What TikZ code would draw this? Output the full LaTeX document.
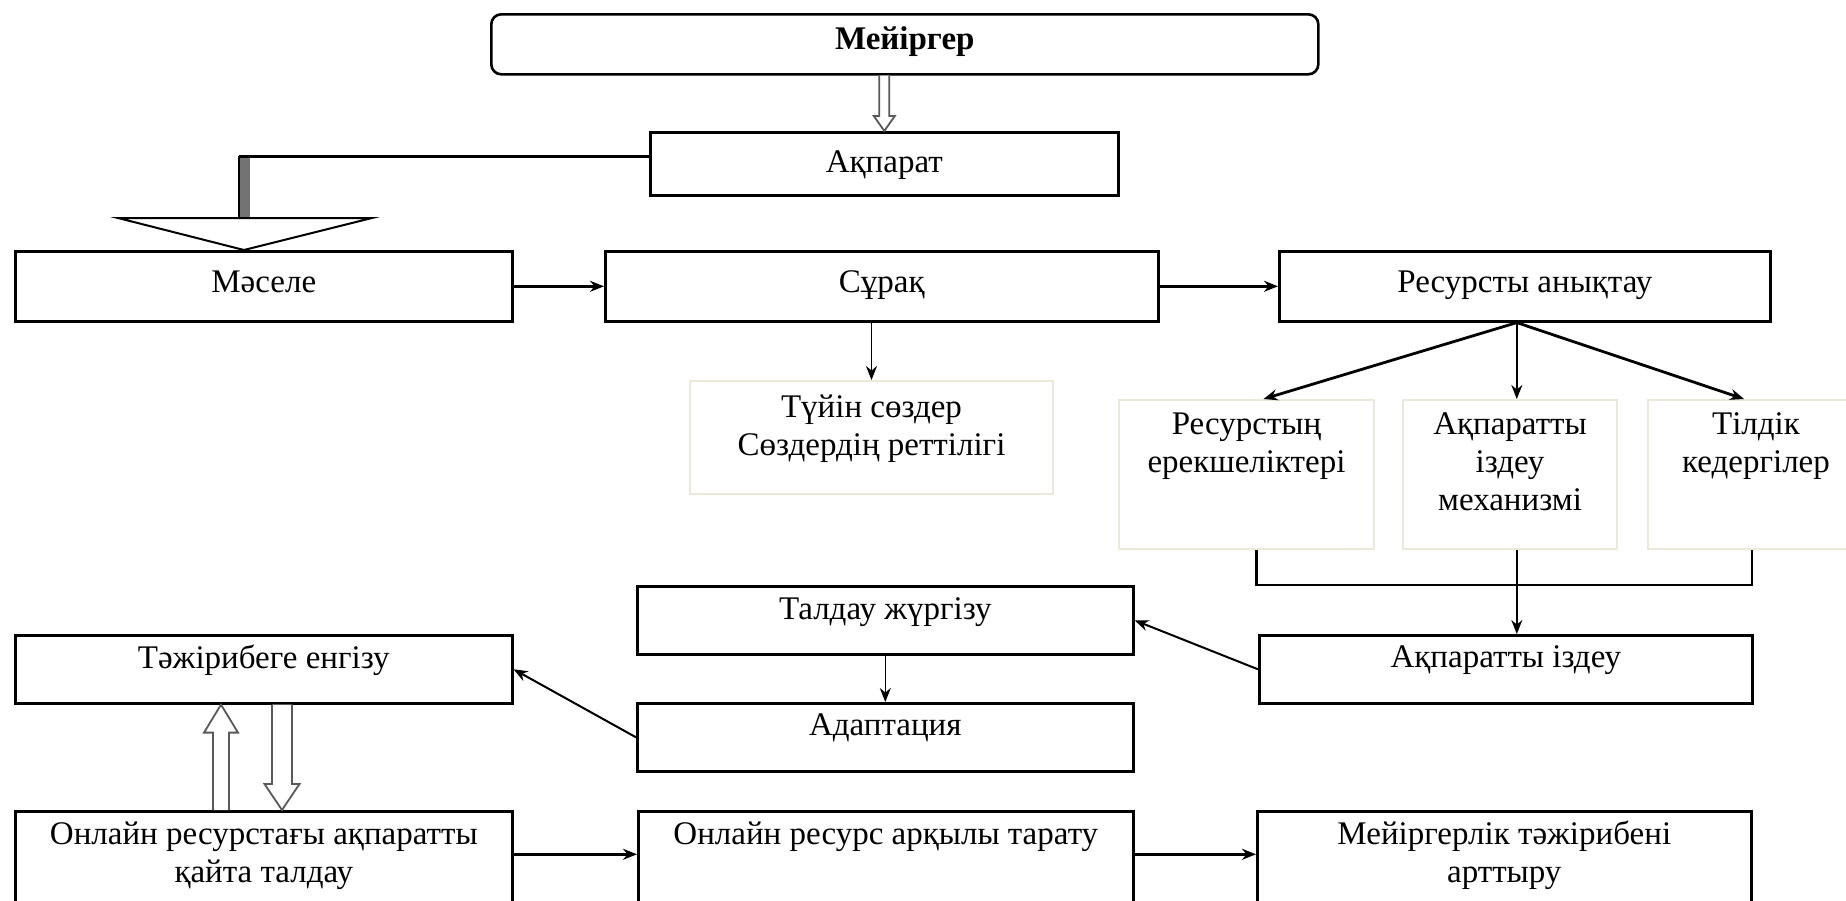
\documentclass[tikz,border=0pt]{standalone}
\usepackage{fontspec}
\setmainfont{Liberation Serif}
\usetikzlibrary{arrows.meta,calc}
\definecolor{lightb}{RGB}{236,232,220}
\begin{document}
\begin{tikzpicture}[x=0.5pt,y=-0.5pt,
 box/.style={draw=black,line width=1.3pt,rectangle,anchor=north west,inner sep=0pt},
 lbox/.style={draw=lightb,line width=1pt,rectangle,anchor=north west,inner sep=0pt},
 txt/.style={font=\fontsize{16.5}{19}\selectfont,anchor=base,align=center,inner sep=0pt},
 arr/.style={-{Stealth[length=7pt,width=5.5pt]},line width=1.4pt},
 tarr/.style={-{Stealth[length=7pt,width=5.5pt]},line width=0.8pt},
 marr/.style={-{Stealth[length=7pt,width=5.5pt]},line width=1pt},
 blk/.style={draw=black!65,line width=0.9pt,fill=white,line join=miter},
]
\useasboundingbox (0,0) rectangle (1846,900);
\clip (0,0) rectangle (1846,900);
% boxes
\node[box,minimum width=413.5pt,minimum height=30pt,rounded corners=5pt] (mei) at (490,13) {};
\node[box,minimum width=234pt,minimum height=31.5pt] (akp) at (649,131) {};
\node[box,minimum width=248.5pt,minimum height=35pt] (mas) at (14,250) {};
\node[box,minimum width=276.5pt,minimum height=35pt] (sur) at (604,250) {};
\node[box,minimum width=245.5pt,minimum height=35pt] (res) at (1278,250) {};
\node[lbox,minimum width=181.5pt,minimum height=56.5pt] (tuy) at (689,380) {};
\node[lbox,minimum width=127.5pt,minimum height=74.5pt] (r1) at (1118,399) {};
\node[lbox,minimum width=107pt,minimum height=74.5pt] (r2) at (1402,399) {};
\node[lbox,minimum width=108pt,minimum height=74.5pt] (r3) at (1647,399) {};
\node[box,minimum width=246.5pt,minimum height=34pt] (izd) at (1258,634) {};
\node[box,minimum width=248pt,minimum height=34pt] (tal) at (636,585) {};
\node[box,minimum width=248pt,minimum height=34pt] (ada) at (636,702) {};
\node[box,minimum width=248.5pt,minimum height=34pt] (taj) at (14,634) {};
\node[box,minimum width=248.5pt,minimum height=55pt] (onl) at (14,810) {};
\node[box,minimum width=247.5pt,minimum height=55pt] (tar) at (637,810) {};
\node[box,minimum width=247pt,minimum height=55pt] (mjt) at (1256,810) {};
% texts (base anchor = baseline of the last line)
\node[txt,font=\fontsize{16.5}{19}\selectfont\bfseries] (meit) at ($(mei.north)+(0,36)$) {Мейіргер};
\node[txt] (akpt) at ($(akp.north)+(0,41)$) {Ақпарат};
\node[txt] (mast) at ($(mas.north)+(0,42)$) {Мәселе};
\node[txt] (surt) at ($(sur.north)+(0,42)$) {Сұрақ};
\node[txt] (rest) at ($(res.north)+(0,42)$) {Ресурсты анықтау};
\node[txt] (tuyt) at ($(tuy.north)+(0,75)$) {Түйін сөздер\\Сөздердің реттілігі};
\node[txt] (r1t) at ($(r1.north)+(0,73)$) {Ресурстың\\ерекшеліктері};
\node[txt] (r2t) at ($(r2.north)+(0,111)$) {Ақпаратты\\іздеу\\механизмі};
\node[txt] (r3t) at ($(r3.north)+(0,73)$) {Тілдік\\кедергілер};
\node[txt] (izdt) at ($(izd.north)+(0,33)$) {Ақпаратты іздеу};
\node[txt] (talt) at ($(tal.north)+(0,34)$) {Талдау жүргізу};
\node[txt] (adat) at ($(ada.north)+(0,33)$) {Адаптация};
\node[txt] (tajt) at ($(taj.north)+(0,34)$) {Тәжірибеге енгізу};
\node[txt] (onlt) at ($(onl.north)+(0,72)$) {Онлайн ресурстағы ақпаратты\\қайта талдау};
\node[txt] (tart) at ($(tar.north)+(0,34)$) {Онлайн ресурс арқылы тарату};
\node[txt] (mjtt) at ($(mjt.north)+(0,72)$) {Мейіргерлік тәжірибені\\арттыру};
% block arrow Мейіргер -> Ақпарат
\draw[blk] ($(mei.south -| akp.north)+(-5,0)$) -- ($(akp.north)+(-5,-15)$) -- ($(akp.north)+(-10.5,-15)$) -- (akp.north) -- ($(akp.north)+(10.5,-15)$) -- ($(akp.north)+(5,-15)$) -- ($(mei.south -| akp.north)+(5,0)$);
% Ақпарат -> Мәселе
\coordinate (tip) at ($(mas.north west)+(230,0)$);
\coordinate (bend) at ($(tip)+(-5,-94)$);
\coordinate (tribase) at ($(tip)+(-5,-32)$);
\fill[gray!90!black] (tribase) rectangle ($(tip)+(6,-94)$);
\draw[line width=0.8pt] (tribase) -- (bend);
\draw[line width=1.5pt] (bend) -- (bend -| akp.west);
\draw[line width=1pt,fill=white,line join=miter] ($(tip)+(-126,-32)$) -- ($(tip)+(128,-32)$) -- (tip) -- cycle;
% top row arrows
\draw[arr] (mas.east) -- (sur.west);
\draw[arr] (sur.east) -- (res.west);
\draw[tarr] (sur.south -| tuy.north) -- (tuy.north);
\coordinate (rs) at ($(res.south)+(-8,0)$);
\draw[arr] (rs) -- ($(r1.north)+(17,0)$);
\draw[tarr] (rs) -- (rs |- r2.north);
\draw[arr] (rs) -- ($(r3.north)+(-12,0)$);
% bracket
\draw[line width=1.3pt] ($(r1.south)+(10,0)$) -- ++(0,35) -| ($(r3.south)+(-4,0)$);
\draw[tarr] (rs |- r2.south) -- (rs |- izd.north);
% middle arrows
\draw[marr] (izd.west) -- (tal.east);
\draw[tarr] (tal.south) -- (ada.north);
\draw[marr] (ada.west) -- (taj.east);
% block arrows between taj and onl
\coordinate (u) at ($(taj.south west)+(207,0)$);
\draw[blk] ($(u |- onl.north)+(-8,0)$) -- ($(u)+(-8,28)$) -- ($(u)+(-17,28)$) -- (u) -- ($(u)+(17,28)$) -- ($(u)+(8,28)$) -- ($(u |- onl.north)+(8,0)$);
\coordinate (d) at ($(onl.north west)+(268,0)$);
\draw[blk] ($(d |- taj.south)+(-10,0)$) -- ($(d)+(-10,-26)$) -- ($(d)+(-17.5,-26)$) -- (d) -- ($(d)+(17.5,-26)$) -- ($(d)+(10,-26)$) -- ($(d |- taj.south)+(10,0)$);
% bottom arrows
\draw[arr] ($(onl.east)+(0,-12)$) -- ($(tar.west)+(0,-12)$);
\draw[arr] ($(tar.east)+(0,-12)$) -- ($(mjt.west)+(0,-12)$);
\end{tikzpicture}
\end{document}
